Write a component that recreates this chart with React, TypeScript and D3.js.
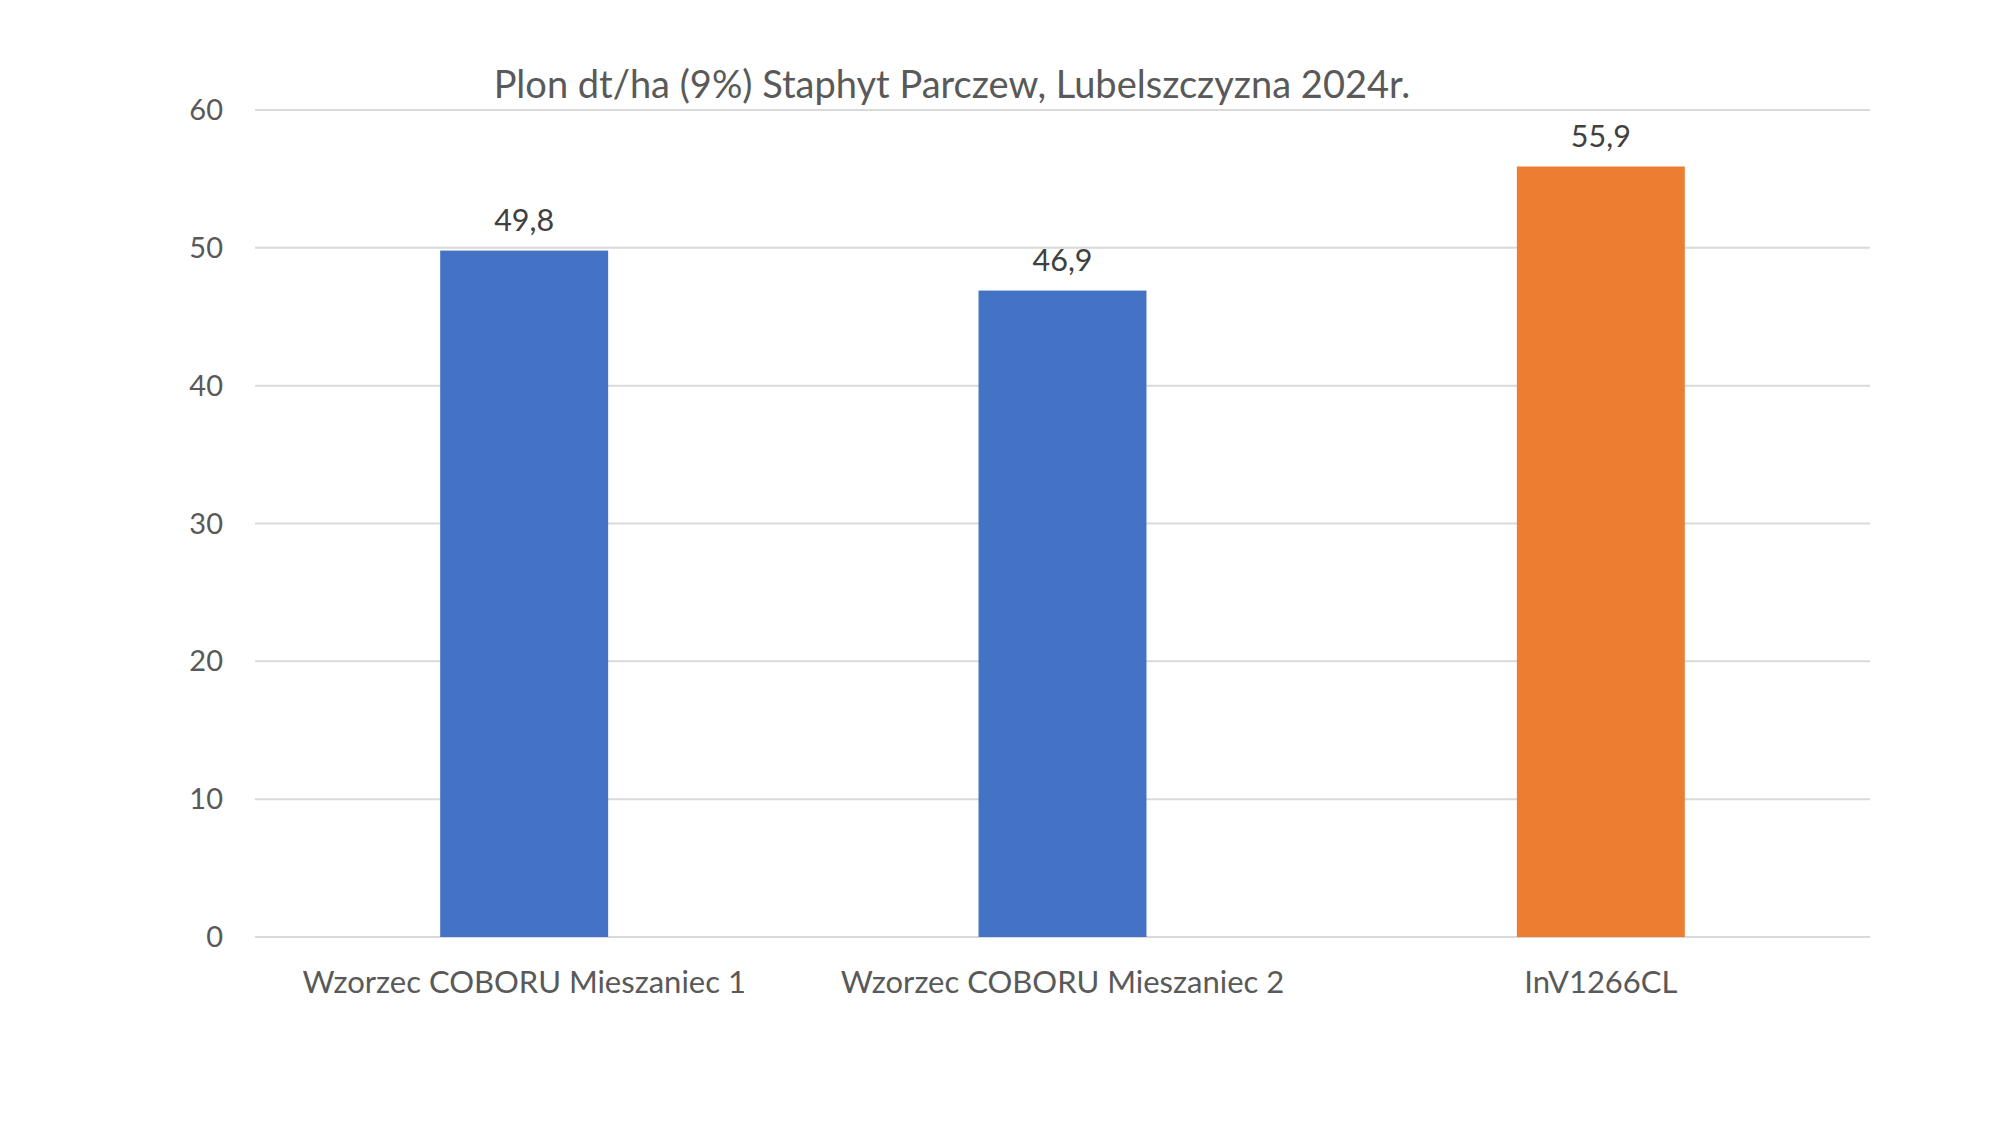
import React, { useRef, useEffect } from "react";
import * as d3 from "d3";

const categories = [
  "Wzorzec COBORU Mieszaniec 1",
  "Wzorzec COBORU Mieszaniec 2",
  "InV1266CL",
];
const values = [49.8, 46.9, 55.9];
const barColors = ["#4472C4", "#4472C4", "#ED7D31"];
const yTicks = [0, 10, 20, 30, 40, 50, 60];
const title = "Plon dt/ha (9%) Staphyt Parczew, Lubelszczyzna 2024r.";

const width = 2000;
const height = 1125;
const margin = { top: 110, right: 130, bottom: 188, left: 255 };
const font = "Lato, 'Open Sans', sans-serif";
const textColor = "#595959";

const BarChart: React.FC = () => {
  const svgRef = useRef<SVGSVGElement>(null);

  useEffect(() => {
    if (!svgRef.current) return;
    const svg = d3.select(svgRef.current);
    svg.selectAll("*").remove();

    const x = d3
      .scaleBand()
      .domain(categories)
      .range([margin.left, width - margin.right])
      .paddingInner(0.688)
      .paddingOuter(0.344);

    const y = d3
      .scaleLinear()
      .domain([0, 60])
      .range([height - margin.bottom, margin.top]);

    svg
      .append("rect")
      .attr("width", width)
      .attr("height", height)
      .attr("fill", "#ffffff");

    // gridlines
    svg
      .append("g")
      .selectAll("line")
      .data(yTicks)
      .join("line")
      .attr("x1", margin.left)
      .attr("x2", width - margin.right)
      .attr("y1", (d) => y(d))
      .attr("y2", (d) => y(d))
      .attr("stroke", "#D9D9D9")
      .attr("stroke-width", 2);

    // y labels
    svg
      .append("g")
      .selectAll("text")
      .data(yTicks)
      .join("text")
      .attr("x", 223)
      .attr("y", (d) => y(d))
      .attr("dy", "0.35em")
      .attr("text-anchor", "end")
      .attr("font-family", font)
      .attr("font-size", 29)
      .attr("fill", textColor)
      .text((d) => d);

    // bars
    svg
      .append("g")
      .selectAll("rect")
      .data(values)
      .join("rect")
      .attr("x", (_, i) => x(categories[i])!)
      .attr("y", (d) => y(d))
      .attr("width", x.bandwidth())
      .attr("height", (d) => y(0) - y(d))
      .attr("fill", (_, i) => barColors[i]);

    // value labels
    svg
      .append("g")
      .selectAll("text")
      .data(values)
      .join("text")
      .attr("x", (_, i) => x(categories[i])! + x.bandwidth() / 2)
      .attr("y", (d) => y(d) - 20)
      .attr("text-anchor", "middle")
      .attr("font-family", font)
      .attr("font-size", 30.5)
      .attr("fill", "#404040")
      .text((d) => d.toFixed(1).replace(".", ","));

    // category labels
    svg
      .append("g")
      .selectAll("text")
      .data(categories)
      .join("text")
      .attr("x", (d) => x(d)! + x.bandwidth() / 2)
      .attr("y", 993)
      .attr("text-anchor", "middle")
      .attr("font-family", font)
      .attr("font-size", 31)
      .attr("fill", textColor)
      .text((d) => d);

    // title
    svg
      .append("text")
      .attr("x", 952)
      .attr("y", 98)
      .attr("text-anchor", "middle")
      .attr("font-family", font)
      .attr("font-size", 38)
      .attr("fill", textColor)
      .text(title);
  }, []);

  return (
    <svg
      ref={svgRef}
      width={width}
      height={height}
      style={{ position: "absolute", left: 0, top: 0 }}
    ></svg>
  );
};

export default function App() {
  return <BarChart />;
}
